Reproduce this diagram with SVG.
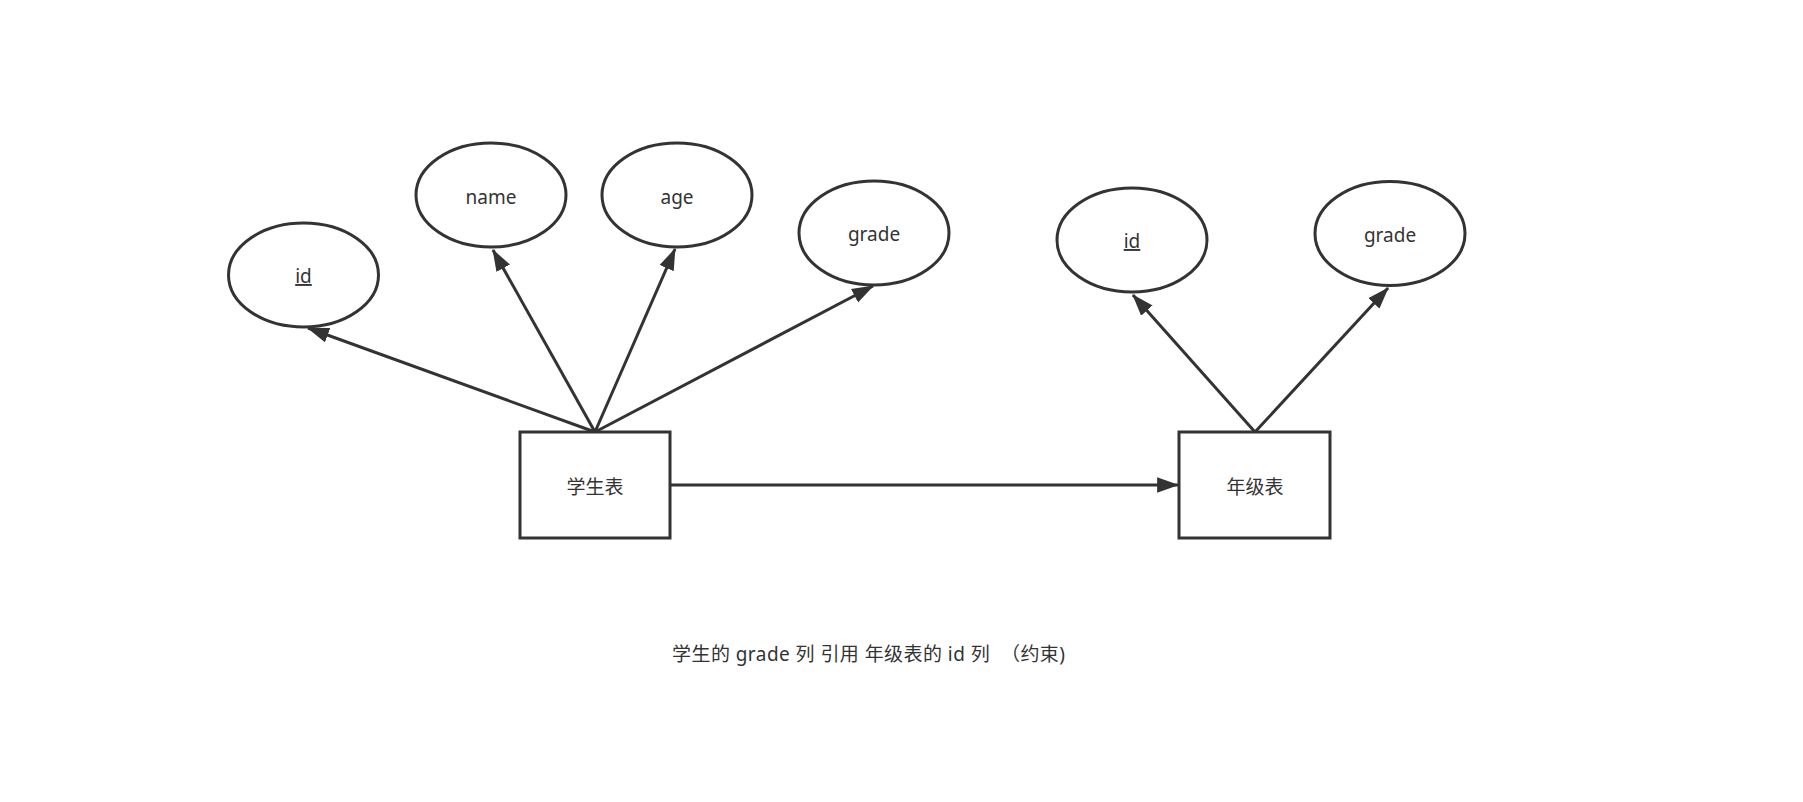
<svg xmlns="http://www.w3.org/2000/svg" width="1803" height="802" viewBox="0 0 1803 802">
<style>
.shape{fill:#ffffff;stroke:#333333;stroke-width:3}
.edge{fill:none;stroke:#333333;stroke-width:3}
.lbl{font-family:'Noto Sans','Noto Sans CJK SC',sans-serif;font-size:19px;fill:#333333;text-anchor:middle}
.u{text-decoration:underline}
</style>
<defs>
<marker id="arr" markerUnits="userSpaceOnUse" markerWidth="22" markerHeight="16" viewBox="0 0 20 14" refX="19" refY="7" orient="auto">
<path d="M0,0 L20,7 L0,14 Z" fill="#333333"/>
</marker>
</defs>
<rect width="1803" height="802" fill="#ffffff"/>
<g id="connectors">
<line class="edge" x1="595" y1="432" x2="308" y2="328" marker-end="url(#arr)"/>
<line class="edge" x1="595" y1="432" x2="493" y2="250" marker-end="url(#arr)"/>
<line class="edge" x1="595" y1="432" x2="675" y2="249" marker-end="url(#arr)"/>
<line class="edge" x1="595" y1="432" x2="873" y2="286" marker-end="url(#arr)"/>
<line class="edge" x1="1255" y1="432" x2="1133" y2="295" marker-end="url(#arr)"/>
<line class="edge" x1="1255" y1="432" x2="1388" y2="288" marker-end="url(#arr)"/>
<line class="edge" x1="670" y1="485" x2="1178" y2="485" marker-end="url(#arr)"/>
</g>
<g id="node-id1">
<ellipse class="shape" cx="303.5" cy="275" rx="75" ry="52"/>
<text class="lbl u" x="303.5" y="283">id</text>
</g>
<g id="node-name">
<ellipse class="shape" cx="491" cy="195" rx="75" ry="52"/>
<text class="lbl" x="491" y="203.5">name</text>
</g>
<g id="node-age">
<ellipse class="shape" cx="677" cy="195" rx="75" ry="52"/>
<text class="lbl" x="677" y="203.5">age</text>
</g>
<g id="node-grade1">
<ellipse class="shape" cx="874" cy="233" rx="75" ry="52"/>
<text class="lbl" x="874" y="241">grade</text>
</g>
<g id="node-id2">
<ellipse class="shape" cx="1132" cy="240" rx="75" ry="52"/>
<text class="lbl u" x="1132" y="248">id</text>
</g>
<g id="node-grade2">
<ellipse class="shape" cx="1390" cy="233.5" rx="75" ry="52"/>
<text class="lbl" x="1390" y="241.5">grade</text>
</g>
<g id="node-student">
<rect class="shape" x="520" y="432" width="150" height="106"/>
<text class="lbl" x="595" y="494">学生表</text>
</g>
<g id="node-gradetable">
<rect class="shape" x="1179" y="432" width="151" height="106"/>
<text class="lbl" x="1255" y="494">年级表</text>
</g>
<g id="caption">
<text class="lbl" x="868.5" y="661" textLength="393" lengthAdjust="spacing" xml:space="preserve">学生的 grade 列 引用 年级表的 id 列  （约束)</text>
</g>
</svg>
